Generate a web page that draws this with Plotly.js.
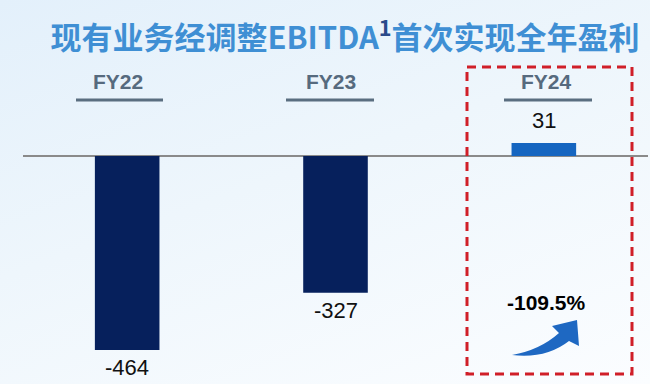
<!DOCTYPE html>
<html>
<head>
<meta charset="utf-8">
<script src="https://cdn.plot.ly/plotly-3.0.1.min.js"></script>
<style>
html,body{margin:0;padding:0;}
body{width:650px;height:384px;overflow:hidden;background:linear-gradient(160deg,#e3f0fb 0%,#eef6fc 45%,#fbfdff 100%);}
#chart{width:650px;height:384px;}
</style>
</head>
<body>
<div id="chart"></div>
<script>
var categories = ['FY22', 'FY23', 'FY24'];
var values = [-464, -327, 31];
var valueLabels = ['-464', '-327', '31'];
var changeLabel = '-109.5%';
var titleText = '现有业务经调整EBITDA<sup><span style="color:#2a4a8a">1</span></sup>首次实现全年盈利';

var W = 650, H = 384;
function px(x){ return x / W; }
function py(y){ return (H - y) / H; }

var barColors = ['#06205c', '#06205c', '#1565c0'];

var trace = {
  type: 'bar',
  x: categories,
  y: values,
  marker: {color: barColors},
  width: 0.31,
  hoverinfo: 'skip'
};

var annotations = [];
values.forEach(function(v, i){
  annotations.push({
    x: categories[i], y: v, xref: 'x', yref: 'y',
    text: valueLabels[i], showarrow: false,
    yanchor: v < 0 ? 'top' : 'bottom',
    yshift: v < 0 ? -3 : 8,
    font: {family: 'Liberation Sans, Arial', size: 22, color: '#111111'}
  });
});
var headerX = [118, 331, 546];
var lineSpan = [[76, 163], [286, 374], [504, 592]];
categories.forEach(function(c, i){
  annotations.push({
    x: px(headerX[i]), y: py(82), xref: 'paper', yref: 'paper',
    text: '<b>' + c + '</b>', showarrow: false,
    xanchor: 'center', yanchor: 'middle',
    font: {family: 'Liberation Sans, Arial', size: 21, color: '#566a7e'}
  });
});
annotations.push({
  x: px(546), y: py(302), xref: 'paper', yref: 'paper',
  text: '<b>' + changeLabel + '</b>', showarrow: false,
  xanchor: 'center', yanchor: 'middle',
  font: {family: 'Liberation Sans, Arial', size: 21, color: '#000000'}
});

var shapes = [];
lineSpan.forEach(function(s){
  shapes.push({type: 'line', xref: 'paper', yref: 'paper',
    x0: px(s[0]), x1: px(s[1]), y0: py(100), y1: py(100),
    line: {color: '#5a6e80', width: 3}});
});
shapes.push({type: 'rect', xref: 'paper', yref: 'paper',
  x0: px(467), x1: px(632), y0: py(67), y1: py(374),
  line: {color: '#d01f28', width: 3, dash: '9px,6px'}});

var pts = 'M ' + px(512) + ' ' + py(355) +
  ' Q ' + px(540) + ' ' + py(350) + ' ' + px(559) + ' ' + py(333) +
  ' L ' + px(552) + ' ' + py(326) +
  ' L ' + px(577) + ' ' + py(320) +
  ' L ' + px(579) + ' ' + py(346) +
  ' L ' + px(569) + ' ' + py(341) +
  ' Q ' + px(546) + ' ' + py(359) + ' ' + px(512) + ' ' + py(355) + ' Z';
shapes.push({type: 'path', xref: 'paper', yref: 'paper', path: pts,
  fillcolor: '#1e68c2', line: {width: 0}});

var layout = {
  width: W, height: H,
  margin: {l: 0, r: 0, t: 0, b: 0},
  paper_bgcolor: 'rgba(0,0,0,0)',
  plot_bgcolor: 'rgba(0,0,0,0)',
  showlegend: false,
  title: {
    text: '<b>' + titleText + '</b>',
    x: px(345), xanchor: 'center', y: py(38), yanchor: 'middle',
    font: {family: 'Noto Sans CJK SC', size: 31, color: '#3f8fd4'}
  },
  xaxis: {
    domain: [px(23), px(648)],
    range: [-0.5, 2.5],
    showticklabels: false, showgrid: false, zeroline: false,
    showline: false, ticks: '', fixedrange: true
  },
  yaxis: {
    domain: [0, py(60)],
    range: [-545.3, 229.6],
    showticklabels: false, showgrid: false,
    zeroline: true, zerolinecolor: '#8a8a8a', zerolinewidth: 2,
    showline: false, ticks: '', fixedrange: true
  },
  annotations: annotations,
  shapes: shapes
};

Plotly.newPlot('chart', [trace], layout, {displayModeBar: false, staticPlot: true});
</script>
</body>
</html>
